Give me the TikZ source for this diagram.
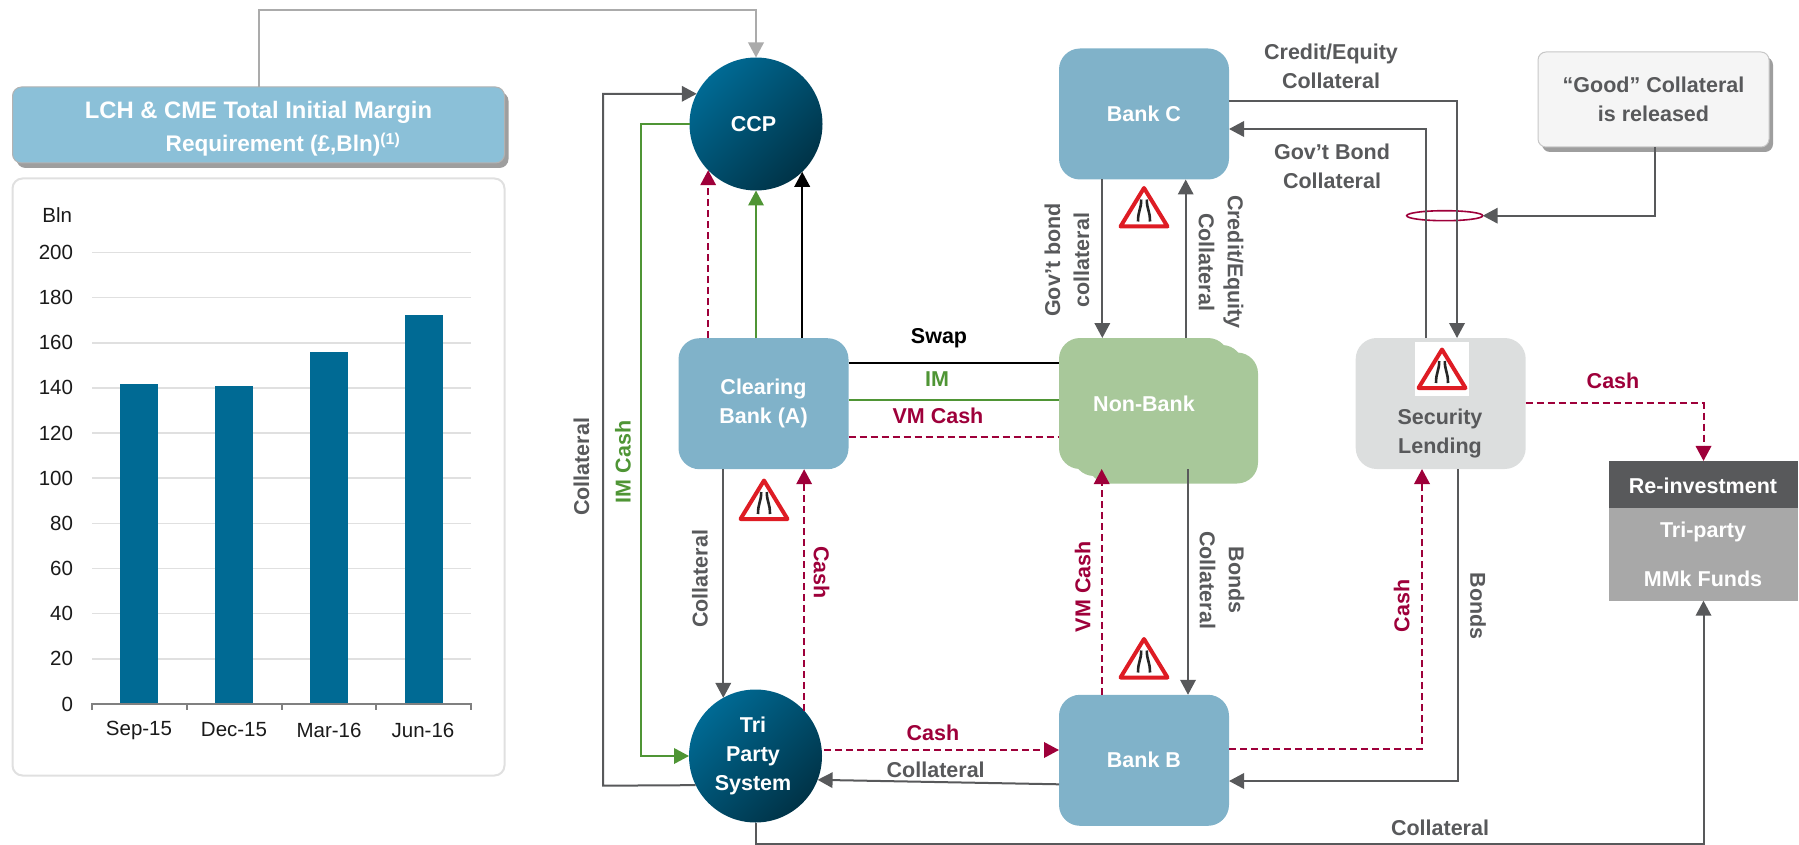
\documentclass[tikz,border=0pt]{standalone}
\usepackage{fontspec}
\setmainfont{Liberation Sans}
\usetikzlibrary{arrows.meta,shapes.geometric,shadows}
\definecolor{barblue}{HTML}{006A94}
\definecolor{bankblue}{HTML}{80B2C9}
\definecolor{headblue}{HTML}{8BC0D8}
\definecolor{nongreen}{HTML}{A8C89A}
\definecolor{secgray}{HTML}{DCDEDE}
\definecolor{darkgray}{HTML}{58595B}
\definecolor{midgray}{HTML}{A8A8A8}
\definecolor{crim}{HTML}{9E003A}
\definecolor{leaf}{HTML}{4F9535}
\definecolor{topgray}{HTML}{ABABAB}
\definecolor{gridgray}{HTML}{E0E0E0}
\definecolor{inkblack}{HTML}{1A1A1A}
\tikzset{
  txt/.style={inner sep=0pt,outer sep=0pt,align=center,font=\bfseries\fontsize{21.5}{29}\selectfont},
  graytxt/.style={txt,text=darkgray},
  crimtxt/.style={txt,text=crim},
  greentxt/.style={txt,text=leaf},
  blacktxt/.style={txt,text=black},
  whitetxt/.style={txt,text=white},
  charttxt/.style={inner sep=0pt,outer sep=0pt,text=inkblack,font=\fontsize{20.5}{24}\selectfont},
  bankbox/.style={whitetxt,rectangle,rounded corners=21pt,fill=bankblue,minimum width=170pt,minimum height=131pt},
  hub/.style={whitetxt,circle,minimum size=133pt,top color=barblue,middle color=barblue!92!black,bottom color=barblue!48!black,shading angle=45},
  flat/.style={rectangle,inner sep=0pt,outer sep=0pt},
  tip/.style={-{Triangle[length=15pt,width=15.5pt]}},
  gline/.style={draw=darkgray,line width=2pt,line join=miter,color=darkgray},
  lline/.style={line width=2pt,color=topgray},
  gnline/.style={line width=2pt,color=leaf},
  bkline/.style={line width=2pt,color=black},
  dline/.style={line width=2pt,color=crim,dash pattern=on 7pt off 4pt},
  softshadow/.style={drop shadow={shadow xshift=4pt,shadow yshift=-5pt,fill=black,opacity=.38}},
  warnsign/.pic={
    \fill[white] (-27,-27) rectangle (27,27);
    \draw[line width=4pt,draw={rgb,255:red,222;green,28;blue,36},fill=white,line join=round] (0,-19.5) -- (23.5,19) -- (-23.5,19) -- cycle;
    \draw[line width=2.6pt,color=black!85] (-2.8,-8) .. controls (-2.8,2) and (-6,3) .. (-6,14);
    \draw[line width=2.6pt,color=black!85] (2.8,-8) .. controls (2.8,2) and (6,3) .. (6,14);
  }
}
\begin{document}
\begin{tikzpicture}[x=1pt,y=-1pt]
\useasboundingbox (0,0) rectangle (1799,845);

% ---- chart panel
\node[flat,draw=gridgray,line width=2pt,rounded corners=10pt,fill=white,minimum width=492pt,minimum height=597pt] (panel) at (258.5,477) {};
\foreach \i/\v in {0/200,1/180,2/160,3/140,4/120,5/100,6/80,7/60,8/40,9/20}{
  \draw[gridgray,line width=1.6pt] (92,252.5+45.14*\i) -- (471,252.5+45.14*\i);
  \node[charttxt,anchor=east] (tick\v) at (73,252.5+45.14*\i) {\v};
}
\node[charttxt,anchor=east] (tick0) at (73,704) {0};
\node[charttxt,anchor=east] (blnlabel) at (72,215) {Bln};
\foreach \n/\l/\r/\t in {a/120/158.3/384,b/215/253/386,c/310/348/352,d/404.7/442.7/315}{
  \fill[barblue] (\l,\t) rectangle (\r,704);
}
\draw[color=gray,line width=1.6pt] (92,710) -- (92,704) -- (471,704) -- (471,710);
\foreach \x in {187,281.7,376}{\draw[color=gray,line width=1.6pt] (\x,704) -- (\x,710);}
\node[charttxt] (catA) at (139,730) {Sep-15};
\node[charttxt] (catB) at (234,730) {Dec-15};
\node[charttxt] (catC) at (329,730) {Mar-16};
\node[charttxt] (catD) at (423,730) {Jun-16};

% ---- header
\node[flat,fill=headblue,draw=black!30,line width=1pt,rounded corners=9pt,minimum width=492pt,minimum height=76pt,softshadow] (header) at (258.5,125) {};
\node[whitetxt,font=\bfseries\fontsize{23.8}{29}\selectfont] (headA) at (258.5,112.5) {LCH \& CME Total Initial Margin};
\node[whitetxt,font=\bfseries\fontsize{22.6}{29}\selectfont] (headB) at (283,144.5) {Requirement (£,Bln)\textsuperscript{(1)}};

% ---- main nodes
\node[hub] (ccp) at (756,124) {\kern-5pt CCP};
\node[hub] (tri) at (755.5,756) {\kern-5pt Tri\\\kern-5pt Party\\\kern-5pt System};
\node[bankbox] (bankc) at (1144,114) {Bank C};
\node[bankbox] (clear) at (763.5,403.7) {Clearing\\Bank (A)};
\node[bankbox] (bankb) at (1144,760.3) {Bank B};
\node[bankbox,fill=nongreen] (nonc) at (1173,418) {};
\node[bankbox,fill=nongreen] (nonb) at (1158,410.5) {};
\node[bankbox,fill=nongreen] (nonbank) at (1144,403.5) {Non-Bank};
\node[bankbox,fill=secgray] (sec) at (1440.7,403.5) {};
\node[graytxt] (seclabel) at (1440,433) {Security\\Lending};
\node[flat,fill=darkgray,minimum width=189pt,minimum height=46.7pt] (reinv) at (1703.5,484.3) {};
\node[flat,fill=midgray,minimum width=189pt,minimum height=93pt] (funds) at (1703.5,554.2) {};
\node[whitetxt] (reinvlabel) at (1703,485.5) {Re-investment};
\node[whitetxt] (tripartylabel) at (1703,532) {Tri-party};
\node[whitetxt] (mmklabel) at (1703,579) {MMk Funds};
\node[flat,fill=black!4,draw=black!22,line width=1pt,rounded corners=8pt,minimum width=231pt,minimum height=95pt,softshadow,graytxt] (good) at (1653.5,99.5) {“Good” Collateral\\is released};
\node[ellipse,draw=crim,line width=1.6pt,minimum width=76pt,minimum height=10pt,inner sep=0pt,outer sep=0pt] (ring) at (1444.7,215.7) {};

% ---- corners
\coordinate (c1) at (259.3,10);
\coordinate (c2) at (756,10);
\coordinate (o1) at (603,785.7);
\coordinate (g1) at (640.7,124);
\coordinate (g2) at (640.7,756);
\coordinate (cr1) at (1457,100.7);
\coordinate (gv1) at (1425.7,129);
\coordinate (rl) at (1655,215.7);
\coordinate (sc1) at (1703.5,403.3);
\coordinate (bc1) at (1422,749.3);
\coordinate (bd1) at (1458.3,781);
\coordinate (tb1) at (755.5,844);
\coordinate (tb2) at (1703.5,844);

% ---- connectors
\draw[lline,tip] (c1 |- header.north) -- (c1) -- (c2) -- (ccp.north);
\draw[gline,tip] (tri.206.5) -- (o1) |- (ccp.153.7);
\draw[gnline,tip] (ccp.west) -- (g1) -- (g2) -- (tri.west);
\draw[dline,tip] (clear.north -| ccp.224.7) -- (ccp.224.7);
\draw[gnline,tip] (clear.north -| ccp.south) -- (ccp.south);
\draw[bkline,tip] (clear.north -| ccp.314.6) -- (ccp.314.6);
\draw[gline,tip] (clear.south -| tri.119.3) -- (tri.119.3);
\draw[dline,tip] (tri.43) ++(0,0) -- (clear.south -| tri.43);
\draw[bkline] (clear.east |- 0,363.3) -- (nonbank.west |- 0,363.3);
\draw[gnline] (clear.east |- 0,400.3) -- (nonbank.west |- 0,400.3);
\draw[dline] (clear.east |- 0,437.3) -- (nonbank.west |- 0,437.3);
\draw[dline,tip] (tri.east |- 0,750) ++(2,0) -- (bankb.west |- 0,750);
\draw[gline,tip] (bankb.west |- 0,784.3) -- (tri.339);
\draw[gline,tip] (bankc.south -| 1102.3,0) -- (nonbank.north -| 1102.3,0);
\draw[gline,tip] (nonbank.north -| 1185.7,0) -- (bankc.south -| 1185.7,0);
\draw[dline,tip] (bankb.north -| 1101.7,0) -- (nonbank.south -| 1101.7,0) ;
\draw[gline,tip] (nonbank.south -| 1188,0) -- (bankb.north -| 1188,0);
\draw[gline,tip] (bankc.east |- cr1) -- (cr1) -- (sec.north -| cr1);
\draw[gline,tip] (sec.north -| gv1) -- (gv1) -- (bankc.east |- gv1);
\draw[gline,tip] (good.south -| rl) -- (rl) -- (ring.east);
\draw[dline,tip] (sec.east |- sc1) -- (sc1) -- (reinv.north);
\draw[dline,tip] (bankb.east |- bc1) -- (bc1) -- (sec.south -| bc1);
\draw[gline,tip] (sec.south -| bd1) -- (bd1) -- (bankb.east |- bd1);
\draw[gline,tip] (tri.south) -- (tb1) -- (tb2) -- (funds.south);

% ---- warning signs
\pic at (764,500) {warnsign};
\pic at (1144,207.5) {warnsign};
\pic at (1144,658.5) {warnsign};
\pic at (1442,369) {warnsign};

% ---- connector labels
\node[blacktxt] (lswap) at (939,338) {Swap};
\node[greentxt] (lim) at (937,379) {IM};
\node[crimtxt] (lvm) at (938,416) {VM Cash};
\node[graytxt,rotate=90] (lcol1) at (581.5,467) {Collateral};
\node[greentxt,rotate=90] (limc) at (623,462) {IM Cash};
\node[graytxt,rotate=90] (lcol2) at (700,579) {Collateral};
\node[crimtxt,rotate=-90] (lcash1) at (821.5,572.5) {Cash};
\node[crimtxt] (lcash2) at (933,732.7) {Cash};
\node[graytxt] (lcol3) at (935.7,770) {Collateral};
\node[crimtxt,rotate=90] (lvm2) at (1082.7,586.7) {VM Cash};
\node[graytxt,rotate=-90] (lbc) at (1222,580) {Bonds\\Collateral};
\node[graytxt,rotate=-90] (lce) at (1221,262) {Credit/Equity\\Collateral};
\node[graytxt,rotate=90] (lgb) at (1067,260) {Gov’t bond\\collateral};
\node[graytxt] (lce2) at (1331,66) {Credit/Equity\\Collateral};
\node[graytxt] (lgb2) at (1332,166) {Gov’t Bond\\Collateral};
\node[crimtxt] (lcash3) at (1613,380.7) {Cash};
\node[crimtxt,rotate=90] (lcash4) at (1401.7,606) {Cash};
\node[graytxt,rotate=-90] (lbonds) at (1478,606) {Bonds};
\node[graytxt] (lcol4) at (1440,827.7) {Collateral};
\end{tikzpicture}
\end{document}
